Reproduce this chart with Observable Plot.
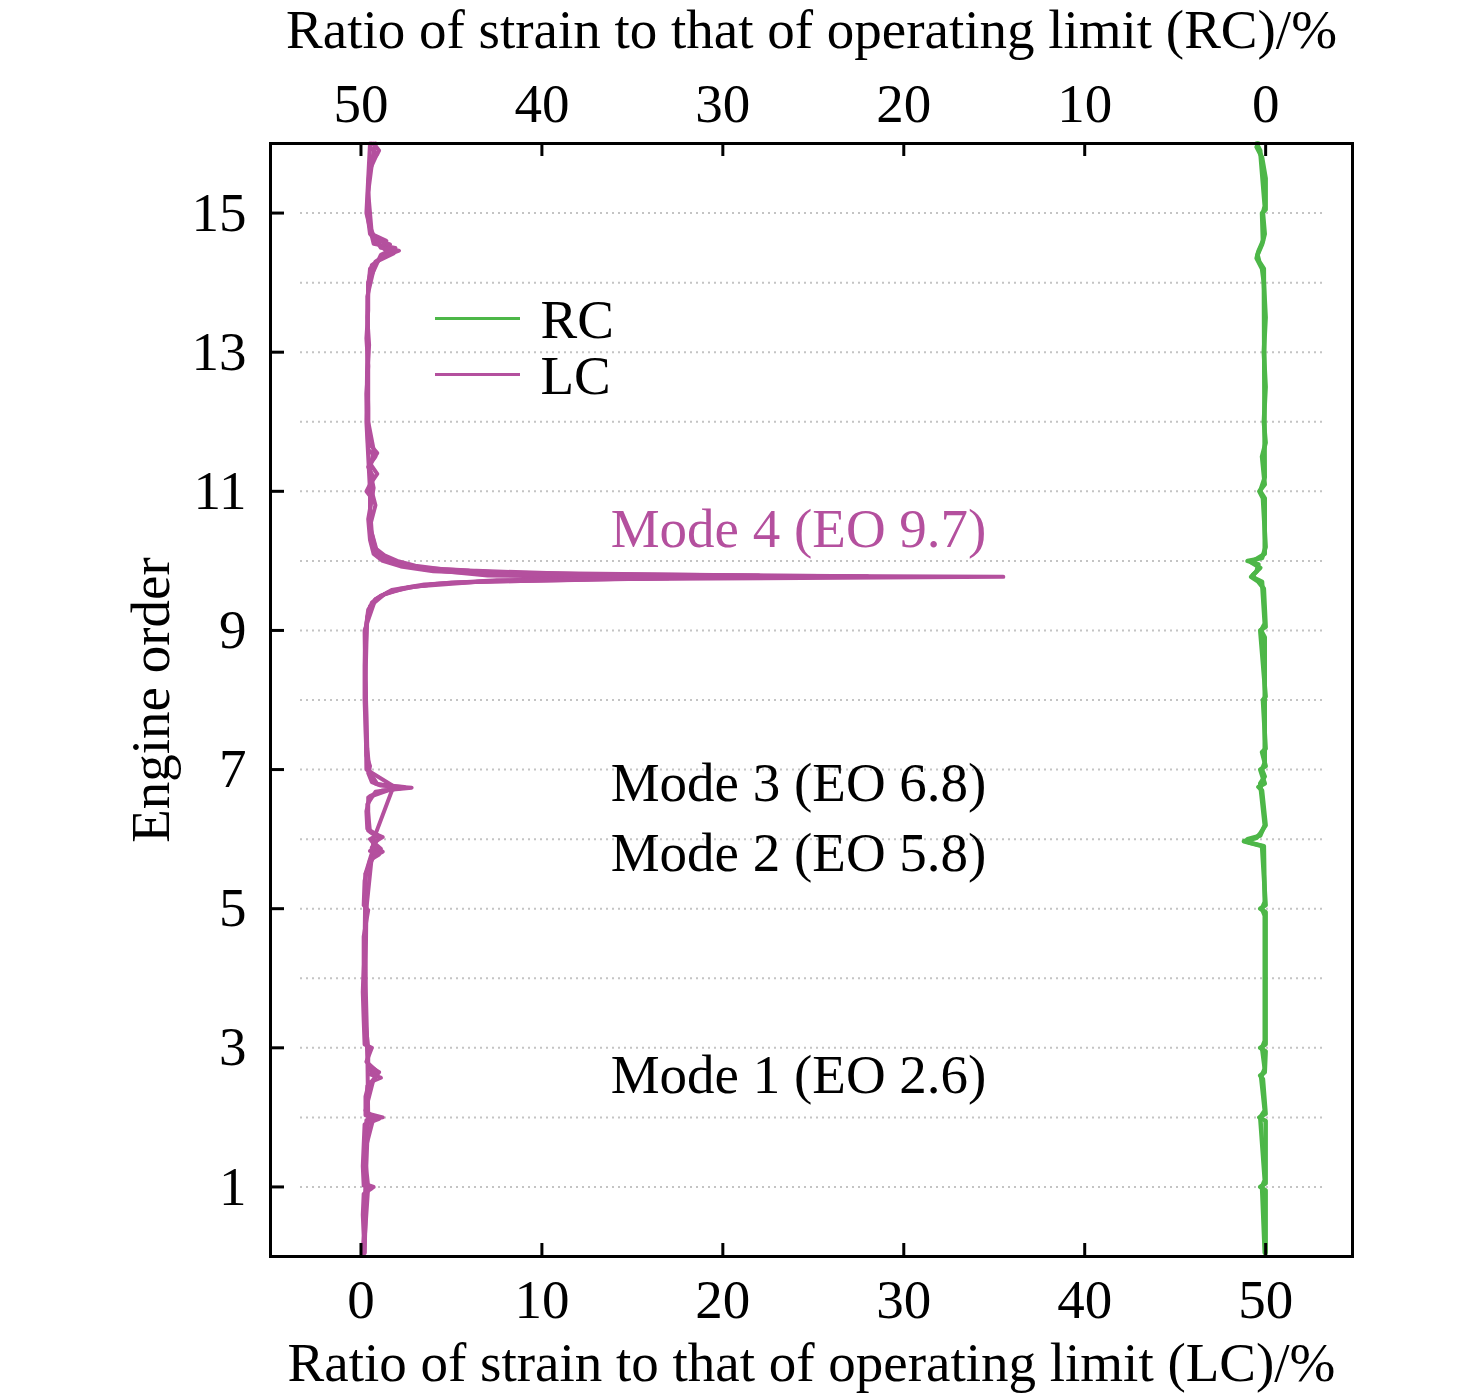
<!DOCTYPE html>
<html>
<head>
<meta charset="utf-8">
<script src="https://cdn.jsdelivr.net/npm/d3@7"></script>
<script src="https://cdn.jsdelivr.net/npm/@observablehq/plot@0.6"></script>
<style>
  body { margin: 0; background: #fff; }
  #chart svg { display: block; }
</style>
</head>
<body>
<div id="chart"></div>
<script>
// ---------- data ----------
const lcTicks = [0, 10, 20, 30, 40, 50];          // bottom axis (LC) %
const rcTicks = [50, 40, 30, 20, 10, 0];          // top axis (RC) %
const eoTicks = [1, 3, 5, 7, 9, 11, 13, 15];      // engine order ticks
const eoGrid = [1, 2, 3, 4, 5, 6, 7, 8, 9, 10, 11, 12, 13, 14, 15];

// LC traces: [engine order, ratio %]
const lcA = [[0.05,0.1],[0.3,0.15],[0.6,0.1],[0.9,0.15],[0.98,0.6],[1.02,0.15],[1.3,0.1],[1.6,0.15],[1.9,0.2],[1.98,1.0],[2.03,0.25],[2.3,0.25],[2.5,0.45],[2.57,1.1],[2.62,0.5],[2.68,0.8],[2.8,0.3],[3.0,0.6],[3.05,0.2],[3.4,0.15],[3.8,0.1],[4.2,0.15],[4.6,0.15],[4.98,0.4],[5.05,0.15],[5.4,0.2],[5.7,0.5],[5.78,1.0],[5.83,0.5],[5.9,0.8],[6.0,0.5],[6.06,0.9],[6.15,0.35],[6.4,0.3],[6.62,0.5],[6.7,1.2],[6.74,2.8],[6.77,1.1],[6.82,0.6],[6.95,0.4],[7.05,0.5],[7.2,0.3],[7.6,0.25],[8.0,0.2],[8.5,0.2],[9.0,0.25],[9.3,0.4],[9.45,0.8],[9.55,1.5],[9.63,3.0],[9.7,6.5],[9.74,14],[9.77,35.5],[9.8,9],[9.85,4],[9.92,2.2],[10.0,1.2],[10.1,0.7],[10.3,0.5],[10.6,0.4],[10.9,0.6],[11.0,0.3],[11.2,0.7],[11.35,0.4],[11.5,0.8],[11.6,0.4],[12.0,0.35],[12.4,0.3],[12.8,0.4],[13.2,0.3],[13.6,0.4],[14.0,0.4],[14.25,0.6],[14.38,1.3],[14.46,2.1],[14.5,1.1],[14.58,0.9],[14.7,0.5],[15.0,0.35],[15.4,0.4],[15.7,0.5],[15.85,0.9],[15.95,0.5],[16.0,0.6]];
const lcB = [[0.05,0.2],[0.5,0.25],[0.97,0.25],[1.0,0.7],[1.04,0.25],[1.5,0.2],[1.96,0.3],[2.0,1.2],[2.06,0.3],[2.45,0.35],[2.6,0.9],[2.7,0.4],[3.0,0.4],[3.5,0.2],[4.0,0.25],[4.5,0.2],[5.0,0.3],[5.5,0.25],[5.75,0.7],[5.82,1.2],[5.88,0.6],[6.02,1.0],[6.1,0.5],[6.5,0.35],[6.68,0.8],[6.73,2.2],[6.76,1.5],[6.8,0.8],[6.9,0.5],[7.3,0.35],[7.8,0.3],[8.3,0.25],[8.8,0.3],[9.2,0.35],[9.4,0.6],[9.5,1.1],[9.6,2.2],[9.67,4.2],[9.73,9],[9.78,28],[9.81,12],[9.86,6],[9.9,3.2],[9.96,2.0],[10.05,1.1],[10.2,0.7],[10.5,0.5],[10.8,0.8],[11.1,0.5],[11.25,0.9],[11.4,0.5],[11.55,0.9],[11.7,0.4],[12.2,0.4],[12.7,0.35],[13.1,0.45],[13.5,0.35],[13.9,0.4],[14.2,0.5],[14.32,1.0],[14.42,1.8],[14.48,1.3],[14.55,1.6],[14.62,0.8],[14.8,0.5],[15.2,0.4],[15.6,0.45],[15.8,0.8],[15.9,1.0],[16.0,0.7]];
const lcC = [[0.05,0.15],[1.0,0.4],[1.5,0.2],[2.0,0.7],[2.1,0.25],[2.55,0.7],[2.65,1.0],[2.75,0.4],[3.5,0.2],[4.5,0.2],[5.5,0.25],[5.8,0.6],[5.86,1.1],[5.95,0.7],[6.03,1.2],[6.12,0.4],[6.6,0.4],[6.72,1.7],[6.75,2.4],[6.79,0.9],[7.0,0.4],[7.5,0.3],[8.5,0.25],[9.1,0.3],[9.35,0.5],[9.52,1.3],[9.62,2.6],[9.69,5],[9.75,17],[9.79,7],[9.84,5],[9.88,3.5],[9.94,2.6],[10.02,1.5],[10.12,0.9],[10.4,0.6],[10.75,0.5],[11.05,0.7],[11.3,0.5],[11.6,0.7],[12.0,0.4],[13.0,0.4],[13.8,0.35],[14.3,0.8],[14.44,1.6],[14.52,1.2],[14.6,1.4],[14.7,0.6],[15.3,0.4],[15.9,0.7],[16.0,0.8]];
const lcD = [[0.05,0.2],[1.0,0.25],[2.0,0.4],[3.0,0.35],[4.0,0.25],[5.0,0.3],[6.0,0.7],[6.76,1.8],[7.0,0.3],[8.0,0.25],[9.0,0.2],[9.45,0.8],[9.58,1.7],[9.66,3.5],[9.72,7.5],[9.79,22],[9.83,8],[9.88,4.5],[9.93,3.0],[10.0,2.0],[10.08,1.3],[10.18,0.8],[10.5,0.5],[11.0,0.5],[12.0,0.3],[13.0,0.35],[14.0,0.4],[14.4,1.1],[14.5,1.9],[14.56,0.7],[15.0,0.3],[16.0,0.5]];

// RC traces: [engine order, ratio %]
const rcA = [[0.05,0.0],[0.95,0.0],[1.0,0.3],[1.05,0.0],[1.95,0.0],[2.0,0.35],[2.05,0.0],[2.55,0.15],[2.6,0.3],[2.65,0.05],[2.95,0.0],[3.0,0.3],[3.05,0.0],[4.0,0.0],[4.95,0.0],[5.0,0.3],[5.05,0.0],[5.9,0.2],[5.97,1.2],[6.02,0.5],[6.08,0.3],[6.2,0.0],[6.7,0.2],[6.75,0.4],[6.8,0.05],[7.0,0.3],[7.05,0.0],[7.25,0.2],[7.3,0.0],[8.0,0.15],[8.05,0.0],[9.0,0.3],[9.05,0.0],[9.6,0.1],[9.7,0.4],[9.77,0.8],[9.85,0.5],[9.95,0.4],[10.0,1.0],[10.04,0.2],[10.2,0.0],[10.9,0.15],[11.0,0.35],[11.1,0.05],[11.5,0.2],[11.7,0.0],[12.0,0.1],[12.5,0.0],[13.0,0.1],[13.5,0.0],[14.0,0.1],[14.2,0.2],[14.35,0.5],[14.45,0.4],[14.6,0.15],[15.0,0.2],[15.05,0.0],[15.5,0.0],[15.8,0.2],[15.95,0.5],[16.0,0.4]];
const rcB = [[0.05,0.05],[1.0,0.2],[1.1,0.05],[2.0,0.3],[2.1,0.05],[2.58,0.25],[2.7,0.05],[3.0,0.2],[3.1,0.05],[4.9,0.05],[5.0,0.2],[5.1,0.05],[5.9,0.1],[5.95,0.9],[6.0,1.0],[6.05,0.3],[6.2,0.05],[6.8,0.3],[6.9,0.05],[7.0,0.2],[7.1,0.05],[8.9,0.05],[9.0,0.25],[9.1,0.05],[9.7,0.2],[9.75,0.6],[9.8,0.7],[9.9,0.3],[9.98,0.8],[10.1,0.05],[10.9,0.05],[11.0,0.3],[11.2,0.05],[14.2,0.1],[14.3,0.35],[14.4,0.45],[14.55,0.2],[14.7,0.05],[15.0,0.15],[15.1,0.05],[15.9,0.3],[16.0,0.5]];

const legendLabels = ["RC", "LC"];
const modeLabels = ["Mode 4 (EO 9.7)", "Mode 3 (EO 6.8)", "Mode 2 (EO 5.8)", "Mode 1 (EO 2.6)"];
const modeEO = [10.45, 6.8, 5.8, 2.6];
const modeX = 13.8;

const titleTop = "Ratio of strain to that of operating limit (RC)/%";
const titleBottom = "Ratio of strain to that of operating limit (LC)/%";
const titleLeft = "Engine order";

// ---------- style ----------
const purple = "#b4509e";
const green = "#4db748";
const legendColors = [green, purple];
const modeColors = [purple, "#000", "#000", "#000"];

const W = 1476, H = 1399;
const mL = 270, mR = 124, mT = 143, mB = 143;
const innerW = W - mL - mR, innerH = H - mT - mB;

const lcLine = (data) => Plot.line(data, {x: d => d[1], y: d => d[0], stroke: purple, strokeWidth: 4, strokeLinejoin: "round", curve: "linear"});
const rcLine = (data) => Plot.line(data, {x: d => 50 - d[1], y: d => d[0], stroke: green, strokeWidth: 4.5, strokeLinejoin: "round", curve: "linear"});

const chart = Plot.plot({
  width: W,
  height: H,
  marginLeft: mL,
  marginRight: mR,
  marginTop: mT,
  marginBottom: mB,
  style: {fontFamily: '"Liberation Serif", "Times New Roman", serif', fontSize: "55px", background: "#fff", color: "#000"},
  x: {domain: [-5, 54.8], axis: null},
  y: {domain: [0, 16], axis: null},
  marks: [
    Plot.ruleY(eoGrid, {y: d => d, stroke: "#c4c4c4", strokeWidth: 2, strokeDasharray: "2 4", insetLeft: 30, insetRight: 29}),
    rcLine(rcB),
    rcLine(rcA),
    lcLine(lcD),
    lcLine(lcC),
    lcLine(lcB),
    lcLine(lcA),
    Plot.frame({stroke: "#000", strokeWidth: 3}),
    // inward tick marks
    Plot.ruleY(eoTicks, {y: d => d, stroke: "#000", strokeWidth: 3, insetRight: innerW - 14}),
    Plot.ruleX(lcTicks, {x: d => d, stroke: "#000", strokeWidth: 3, insetTop: innerH - 13}),
    Plot.ruleX(rcTicks.map(r => 50 - r), {x: d => d, stroke: "#000", strokeWidth: 3, insetBottom: innerH - 13}),
    // axes labels
    Plot.axisX(lcTicks, {anchor: "bottom", tickSize: 0, tickPadding: 22, tickFormat: d => String(d), label: null}),
    Plot.axisX(rcTicks.map(r => 50 - r), {anchor: "top", tickSize: 0, tickPadding: 22, tickFormat: d => String(50 - d), label: null}),
    Plot.axisY(eoTicks, {anchor: "left", tickSize: 0, tickPadding: 24, tickFormat: d => String(d), label: null}),
    // axis titles
    Plot.text([titleTop], {text: d => d, frameAnchor: "top", dy: -96, lineAnchor: "bottom", textAnchor: "middle", fill: "#000"}),
    Plot.text([titleBottom], {text: d => d, frameAnchor: "bottom", dy: 124, lineAnchor: "bottom", textAnchor: "middle", fill: "#000"}),
    Plot.text([titleLeft], {text: d => d, frameAnchor: "left", dx: -102, rotate: -90, lineAnchor: "bottom", textAnchor: "middle", fill: "#000"}),
    // legend
    ...legendLabels.map((lab, i) => Plot.ruleY([16], {y: d => d, dy: 175 + i * 56, stroke: legendColors[i], strokeWidth: 3, insetLeft: 165, insetRight: innerW - 250})),
    ...legendLabels.map((lab, i) => Plot.text([lab], {text: d => d, frameAnchor: "top-left", dx: 270, dy: 177 + i * 56, lineAnchor: "middle", textAnchor: "start", fill: "#000"})),
    // mode annotations
    ...modeLabels.map((lab, i) => Plot.text([lab], {text: d => d, x: () => modeX, y: () => modeEO[i], textAnchor: "start", lineAnchor: "middle", fill: modeColors[i]}))
  ]
});

document.getElementById("chart").appendChild(chart);
</script>
</body>
</html>
